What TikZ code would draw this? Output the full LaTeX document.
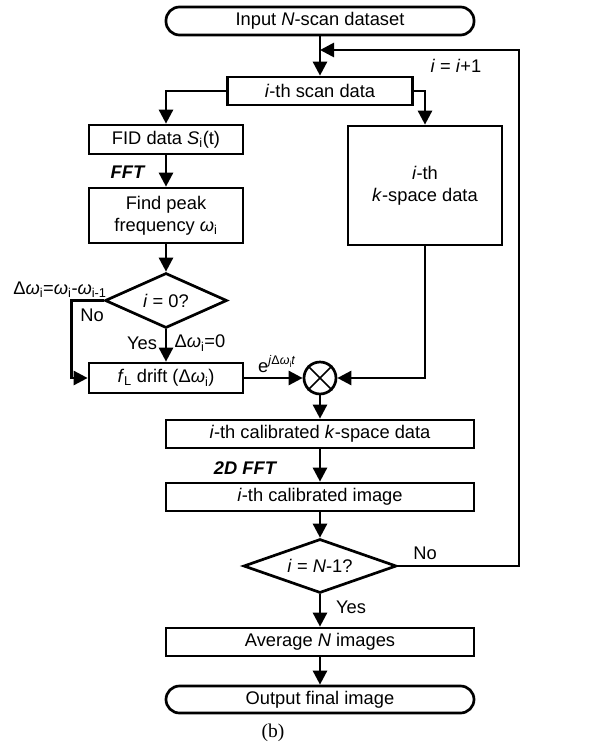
\documentclass[tikz,border=0pt]{standalone}
\usepackage{fontspec}
\setmainfont{Liberation Sans}
\newfontfamily\capfont{Liberation Serif}
\usetikzlibrary{arrows.meta,shapes.geometric}
\newcommand\sbs[1]{\textsubscript{#1}}
\newcommand\omg{\textit{ω}}
\begin{document}
\begin{tikzpicture}[x=1pt,y=-1pt,
  every node/.style={font=\fontsize{18.3}{22}\selectfont},
  box/.style={draw, line width=2.7pt, minimum height=28pt, inner sep=0pt},
  term/.style={box, rounded corners=13.5pt},
  dia/.style={draw, diamond, aspect=2.2, line width=2.7pt, inner sep=0pt},
  arr/.style={line width=2.7pt, -{Triangle[length=14pt,width=14pt]}},
  bi/.style={font=\fontsize{18.3}{22}\selectfont\bfseries\itshape, inner sep=0pt},
  lab/.style={inner sep=0pt}]
\path[fill=white] (0,0) rectangle (594,748);
\useasboundingbox (0,0) rectangle (594,748);

\node[term, minimum width=308pt] (in) at (320,21) {Input \textit{N}-scan dataset};
\node[box, minimum width=185pt] (scan) at (320,91) {\textit{i}-th scan data};
\node[box, minimum width=154pt, minimum height=29pt] (fid) at (166,139.5) {FID data \textit{S}\sbs{i}(t)};
\node[box, minimum width=154pt, minimum height=55pt, align=center] (peak) at (166,215.5) {Find peak\\frequency \omg\sbs{i}};
\node[box, minimum width=154pt, minimum height=119pt, align=center] (ks) at (425,185.5) {\textit{i}-th\\\textit{k}-space data};
\node[dia, minimum width=122pt, minimum height=55pt] (d1) at (166,300.5) {\textit{i} = 0?};
\node[box, minimum width=154pt, minimum height=30pt] (drift) at (166,378) {\textit{f}\sbs{L} drift (Δ\omg\sbs{i})};
\node[draw, circle, line width=2.7pt, minimum size=32pt, inner sep=0pt] (mul) at (320,378) {};
\node[box, minimum width=308pt] (ck) at (320,434) {\textit{i}-th calibrated \textit{k}-space data};
\node[box, minimum width=308pt] (ci) at (320,497) {\textit{i}-th calibrated image};
\node[dia, minimum width=153pt, minimum height=54pt] (d2) at (320,566) {\textit{i} = \textit{N}-1?};
\node[box, minimum width=308pt] (avg) at (320,642) {Average \textit{N} images};
\node[term, minimum width=308pt, minimum height=27pt] (out) at (320,699.5) {Output final image};

\draw[line width=1.7pt] (mul.45) -- (mul.225) (mul.135) -- (mul.315);

\coordinate (jn) at (320,50);
\draw[arr] (in) -- (scan);
\draw[arr] (d2.east) -- ++(121,0) |- (jn);
\draw[arr] (scan.west) -| (fid.north);
\draw[arr] (scan.east) -| (ks.north);
\draw[arr] (fid) -- (peak);
\draw[arr] (peak) -- (d1);
\draw[arr] (d1.west) -- ++(-32,0) |- (drift.west);
\draw[arr] (d1) -- (drift);
\draw[arr] (drift) -- (mul);
\draw[arr] (ks.south) |- (mul.east);
\draw[arr] (mul) -- (ck);
\draw[arr] (ck) -- (ci);
\draw[arr] (ci) -- (d2);
\draw[arr] (d2) -- (avg);
\draw[arr] (avg) -- (out);

\node[lab] (l1) at (456,66) {\textit{i} = \textit{i}+1};
\node[bi] (l2) at (127.5,172) {FFT};
\node[lab] (l3) at (60,290) {Δ\omg\sbs{i}=\omg\sbs{i}-\omg\sbs{i-1}};
\node[lab] (l4) at (92,315) {No};
\node[lab] (l5) at (142,343) {Yes};
\node[lab] (l6) at (200,343) {Δ\omg\sbs{i}=0};
\node[lab, anchor=base west] (l7) at (258,372) {e\raisebox{0.75ex}{\fontsize{12.5}{13}\selectfont\textit{j}Δ\textit{ω}\raisebox{-0.35ex}{\fontsize{8.5}{9}\selectfont i}\textit{t}}};
\node[bi] (l8) at (245,468) {2D FFT};
\node[lab] (l9) at (425,553) {No};
\node[lab] (l10) at (351,607) {Yes};
\node[lab, font=\fontsize{19.5}{22}\capfont] (l11) at (273,733) {(b)};
\end{tikzpicture}
\end{document}
